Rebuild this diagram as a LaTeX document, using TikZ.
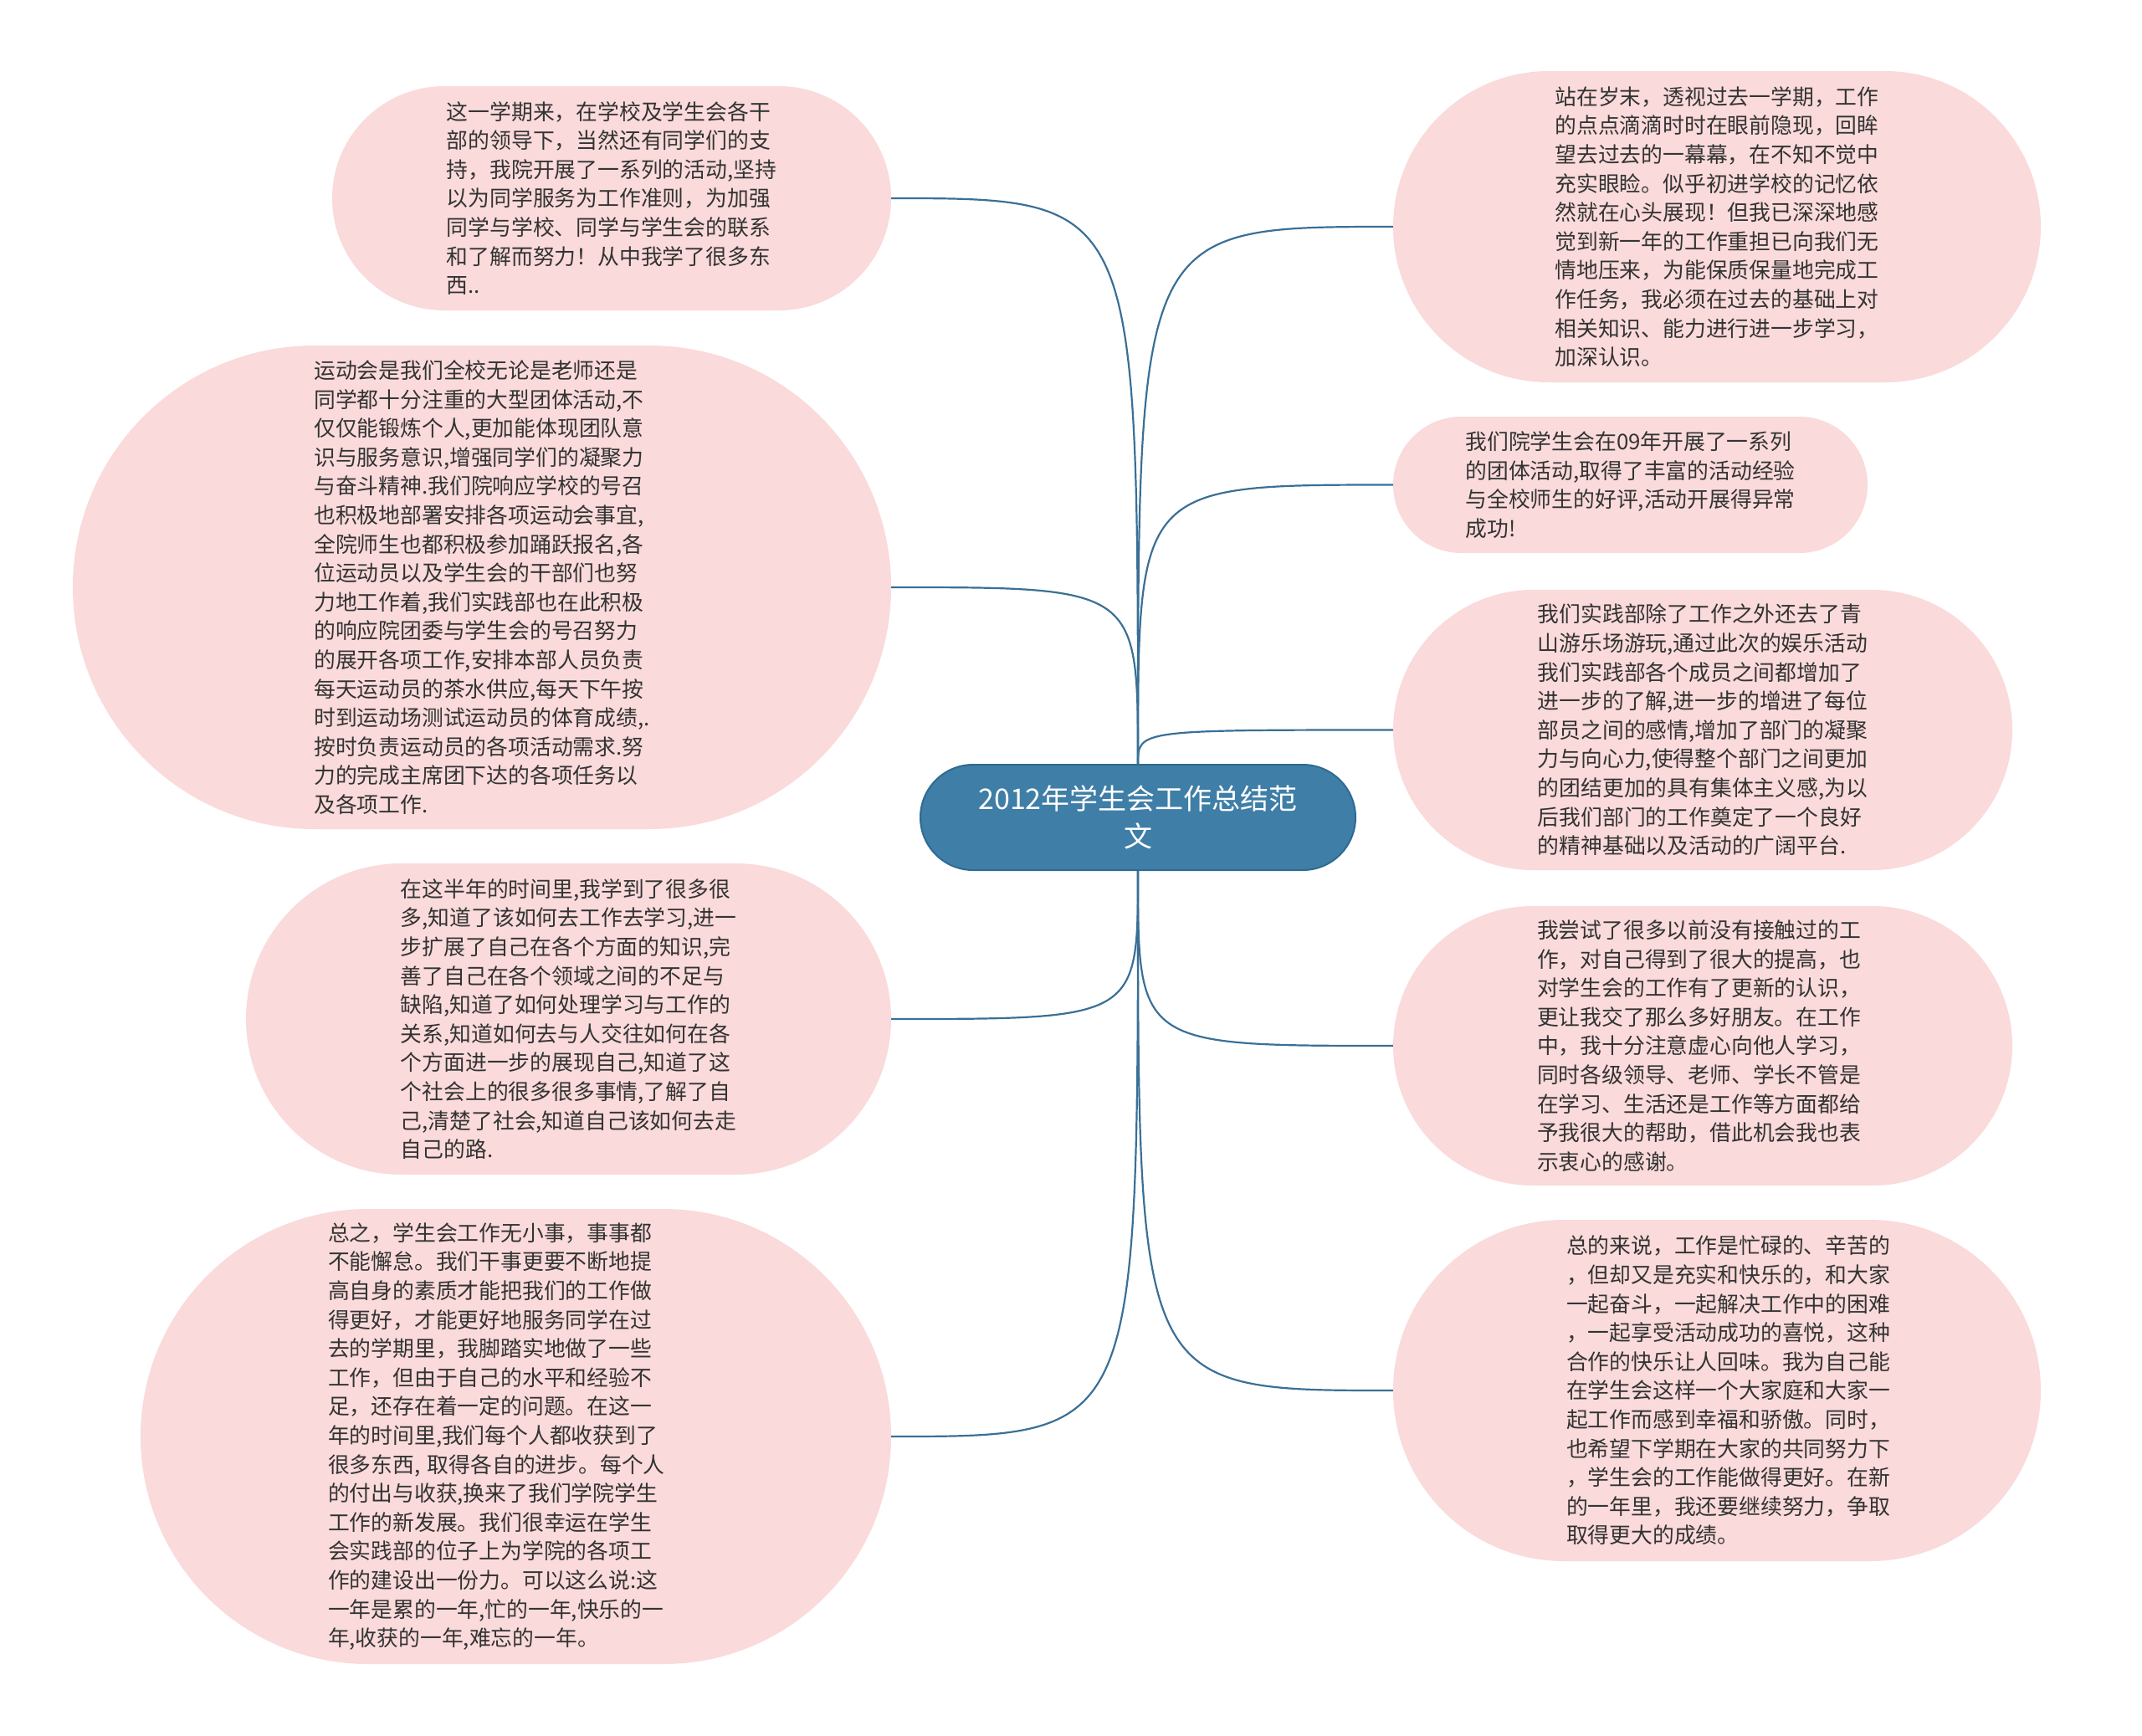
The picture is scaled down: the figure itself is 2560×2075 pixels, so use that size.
\documentclass[tikz,border=0pt]{standalone}
\usepackage{fontspec}
\setmainfont{Noto Sans CJK SC}
\definecolor{boxpink}{HTML}{FADADA}
\definecolor{hubblue}{HTML}{3F7EA6}
\definecolor{hubline}{HTML}{2F6A92}
\definecolor{linkblue}{HTML}{3A6F96}
\definecolor{txt}{HTML}{333333}
\begin{document}
\begin{tikzpicture}[x=1pt,y=-1pt,
  bubble/.style={rectangle, fill=boxpink, draw=none, inner sep=0pt, align=left,
    text=txt, font=\fontsize{25.8pt}{34.6pt}\selectfont},
  hub/.style={rectangle, fill=hubblue, draw=hubline, line width=2pt, inner sep=0pt,
    align=center, text=white, font=\fontsize{34pt}{45pt}\selectfont,
    minimum width=520pt, minimum height=126pt, rounded corners=63pt},
  conn/.style={draw=linkblue, line width=2.2pt}
]
\useasboundingbox (0,0) rectangle (2560,2075);

\node[hub] (c) at (1360,977) {2012年学生会工作总结范\\文};

% left side
\node[bubble, minimum width=668pt, minimum height=268pt, rounded corners=134pt] (L1) at (731,237) {%
这一学期来，在学校及学生会各干\\
部的领导下，当然还有同学们的支\\
持，我院开展了一系列的活动,坚持\\
以为同学服务为工作准则，为加强\\
同学与学校、同学与学生会的联系\\
和了解而努力！从中我学了很多东\\
西..};

\node[bubble, minimum width=978pt, minimum height=578pt, rounded corners=289pt] (L2) at (576,702) {%
运动会是我们全校无论是老师还是\\
同学都十分注重的大型团体活动,不\\
仅仅能锻炼个人,更加能体现团队意\\
识与服务意识,增强同学们的凝聚力\\
与奋斗精神.我们院响应学校的号召\\
也积极地部署安排各项运动会事宜,\\
全院师生也都积极参加踊跃报名,各\\
位运动员以及学生会的干部们也努\\
力地工作着,我们实践部也在此积极\\
的响应院团委与学生会的号召努力\\
的展开各项工作,安排本部人员负责\\
每天运动员的茶水供应,每天下午按\\
时到运动场测试运动员的体育成绩,.\\
按时负责运动员的各项活动需求.努\\
力的完成主席团下达的各项任务以\\
及各项工作.};

\node[bubble, minimum width=771pt, minimum height=372pt, rounded corners=186pt] (L3) at (679.5,1218) {%
在这半年的时间里,我学到了很多很\\
多,知道了该如何去工作去学习,进一\\
步扩展了自己在各个方面的知识,完\\
善了自己在各个领域之间的不足与\\
缺陷,知道了如何处理学习与工作的\\
关系,知道如何去与人交往如何在各\\
个方面进一步的展现自己,知道了这\\
个社会上的很多很多事情,了解了自\\
己,清楚了社会,知道自己该如何去走\\
自己的路.};

\node[bubble, text width=449pt, minimum width=897pt, minimum height=544pt, rounded corners=272pt] (L4) at (616.5,1717) {%
总之，学生会工作无小事，事事都\\
不能懈怠。我们干事更要不断地提\\
高自身的素质才能把我们的工作做\\
得更好，才能更好地服务同学在过\\
去的学期里，我脚踏实地做了一些\\
工作，但由于自己的水平和经验不\\
足，还存在着一定的问题。在这一\\
年的时间里,我们每个人都收获到了\\
很多东西,~取得各自的进步。每个人\\
的付出与收获,换来了我们学院学生\\
工作的新发展。我们很幸运在学生\\
会实践部的位子上为学院的各项工\\
作的建设出一份力。可以这么说:这\\
一年是累的一年,忙的一年,快乐的一\\
年,收获的一年,难忘的一年。};

% right side
\node[bubble, minimum width=774pt, minimum height=372pt, rounded corners=186pt] (R1) at (2052,271) {%
站在岁末，透视过去一学期，工作\\
的点点滴滴时时在眼前隐现，回眸\\
望去过去的一幕幕，在不知不觉中\\
充实眼睑。似乎初进学校的记忆依\\
然就在心头展现！但我已深深地感\\
觉到新一年的工作重担已向我们无\\
情地压来，为能保质保量地完成工\\
作任务，我必须在过去的基础上对\\
相关知识、能力进行进一步学习，\\
加深认识。};

\node[bubble, minimum width=567pt, minimum height=163pt, rounded corners=81.5pt] (R2) at (1948.5,579.5) {%
我们院学生会在09年开展了一系列\\
的团体活动,取得了丰富的活动经验\\
与全校师生的好评,活动开展得异常\\
成功!};

\node[bubble, minimum width=740pt, minimum height=335pt, rounded corners=167.5pt] (R3) at (2035,872.5) {%
我们实践部除了工作之外还去了青\\
山游乐场游玩,通过此次的娱乐活动\\
我们实践部各个成员之间都增加了\\
进一步的了解,进一步的增进了每位\\
部员之间的感情,增加了部门的凝聚\\
力与向心力,使得整个部门之间更加\\
的团结更加的具有集体主义感,为以\\
后我们部门的工作奠定了一个良好\\
的精神基础以及活动的广阔平台.};

\node[bubble, text width=396pt, minimum width=740pt, minimum height=334pt, rounded corners=167pt] (R4) at (2035,1250) {%
我尝试了很多以前没有接触过的工\\
作，对自己得到了很大的提高，也\\
对学生会的工作有了更新的认识，\\
更让我交了那么多好朋友。在工作\\
中，我十分注意虚心向他人学习，\\
同时各级领导、老师、学长不管是\\
在学习、生活还是工作等方面都给\\
予我很大的帮助，借此机会我也表\\
示衷心的感谢。};

\node[bubble, text width=360pt, minimum width=774pt, minimum height=408pt, rounded corners=204pt] (R5) at (2052,1662) {%
总的来说，工作是忙碌的、辛苦的\\
，但却又是充实和快乐的，和大家\\
一起奋斗，一起解决工作中的困难\\
，一起享受活动成功的喜悦，这种\\
合作的快乐让人回味。我为自己能\\
在学生会这样一个大家庭和大家一\\
起工作而感到幸福和骄傲。同时，\\
也希望下学期在大家的共同努力下\\
，学生会的工作能做得更好。在新\\
的一年里，我还要继续努力，争取\\
取得更大的成绩。};

% connectors
\foreach \n in {L1,L2}
  \draw[conn] (c.north) .. controls (c.north |- \n.east) .. (\n.east);
\foreach \n in {L3,L4}
  \draw[conn] (c.south) .. controls (c.south |- \n.east) .. (\n.east);
\foreach \n in {R1,R2,R3}
  \draw[conn] (c.north) .. controls (c.north |- \n.west) .. (\n.west);
\foreach \n in {R4,R5}
  \draw[conn] (c.south) .. controls (c.south |- \n.west) .. (\n.west);
\end{tikzpicture}
\end{document}
